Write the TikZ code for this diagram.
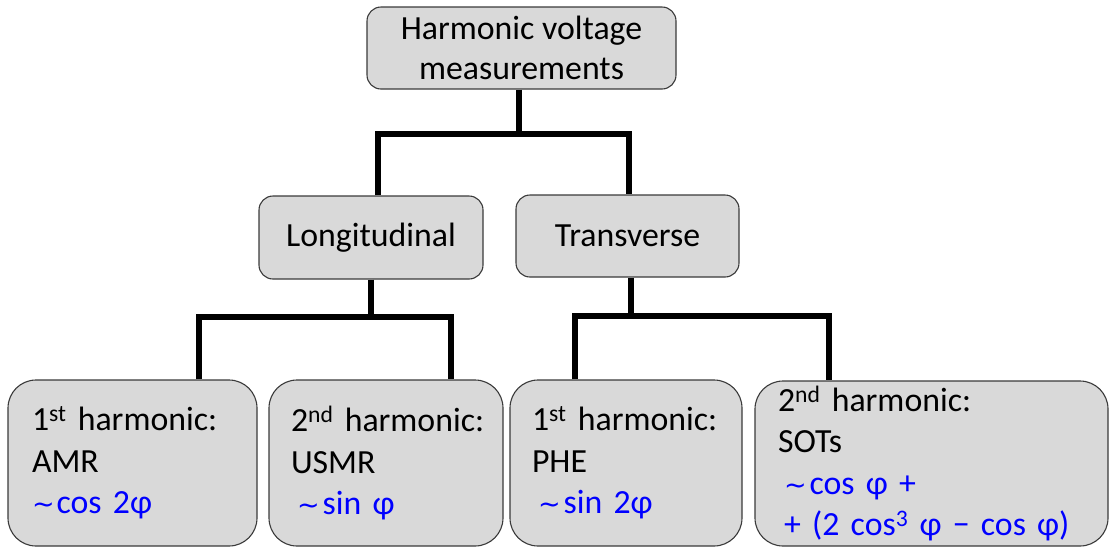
\documentclass[tikz,border=0pt]{standalone}
\usepackage{fontspec}
\setmainfont{Carlito}
\newfontfamily\dejavu{DejaVu Sans}
\definecolor{boxgray}{HTML}{D9D9D9}
\definecolor{edgegray}{HTML}{3A3A3A}
\definecolor{formblue}{HTML}{0000FF}
\newcommand{\tildesym}{{\dejavu\fontsize{27}{27}\selectfont ∼}}
\begin{document}
\begin{tikzpicture}[x=1pt,y=-1pt,
  box/.style={draw=edgegray, fill=boxgray, line width=1.1pt, inner sep=0pt},
  upper/.style={box, rounded corners=14pt, align=center, font=\fontsize{33.8}{40}\selectfont},
  lower/.style={box, rounded corners=28pt, align=left, minimum height=166pt, font=\fontsize{33.8}{41.5}\selectfont},
  conn/.style={line width=5.5pt, line join=miter, black}]
\useasboundingbox (0,0) rectangle (1111,550);
\node[upper, minimum width=309pt, minimum height=82pt] (top) at (521.5,48) {Harmonic voltage\\measurements};
\node[upper, minimum width=224pt, minimum height=83pt] (long) at (371,237.5) {Longitudinal};
\node[upper, minimum width=223pt, minimum height=82pt] (trans) at (627.5,236) {Transverse};
\node[lower, minimum width=249pt, text width=201pt] (b1) at (132.5,463)
  {\mbox{1\textsuperscript{st} harmonic:}\\AMR\\\mbox{\color{formblue}\tildesym\hspace{2pt}cos 2φ}};
\node[lower, minimum width=234pt, text width=190pt] (b2) at (386,463)
  {\mbox{2\textsuperscript{nd} harmonic:}\\USMR\\\mbox{\color{formblue}\hspace*{6pt}\tildesym\hspace{3pt}sin φ}};
\node[lower, minimum width=232pt, text width=188pt] (b3) at (626,463)
  {\mbox{1\textsuperscript{st} harmonic:}\\PHE\\\mbox{\color{formblue}\hspace*{6pt}\tildesym\hspace{3pt}sin 2φ}};
\node[lower, minimum width=353pt, minimum height=165pt, text width=307pt] (b4) at (931.5,463.5)
  {\mbox{2\textsuperscript{nd} harmonic:}\\SOTs\\\mbox{\color{formblue}\hspace*{6pt}\tildesym\hspace{3pt}cos φ +}\\\mbox{\color{formblue}\hspace*{6pt}+ (2 cos\textsuperscript{3} φ − cos φ)}};
\coordinate (j1) at (519,134);
\coordinate (j2) at (371,317);
\coordinate (j3) at (631,316);
\draw[conn] ([xshift=-2.5pt]top.south) -- (j1);
\draw[conn] ([xshift=7pt]long.north) |- (j1) -| ([xshift=1.5pt]trans.north);
\draw[conn] (long.south) -- (j2);
\draw[conn] ([xshift=66.5pt]b1.north) |- (j2) -| ([xshift=65pt]b2.north);
\draw[conn] ([xshift=3.5pt]trans.south) -- (j3);
\draw[conn] ([xshift=-51pt]b3.north) |- (j3) -| ([xshift=-102.5pt]b4.north);
\end{tikzpicture}
\end{document}
